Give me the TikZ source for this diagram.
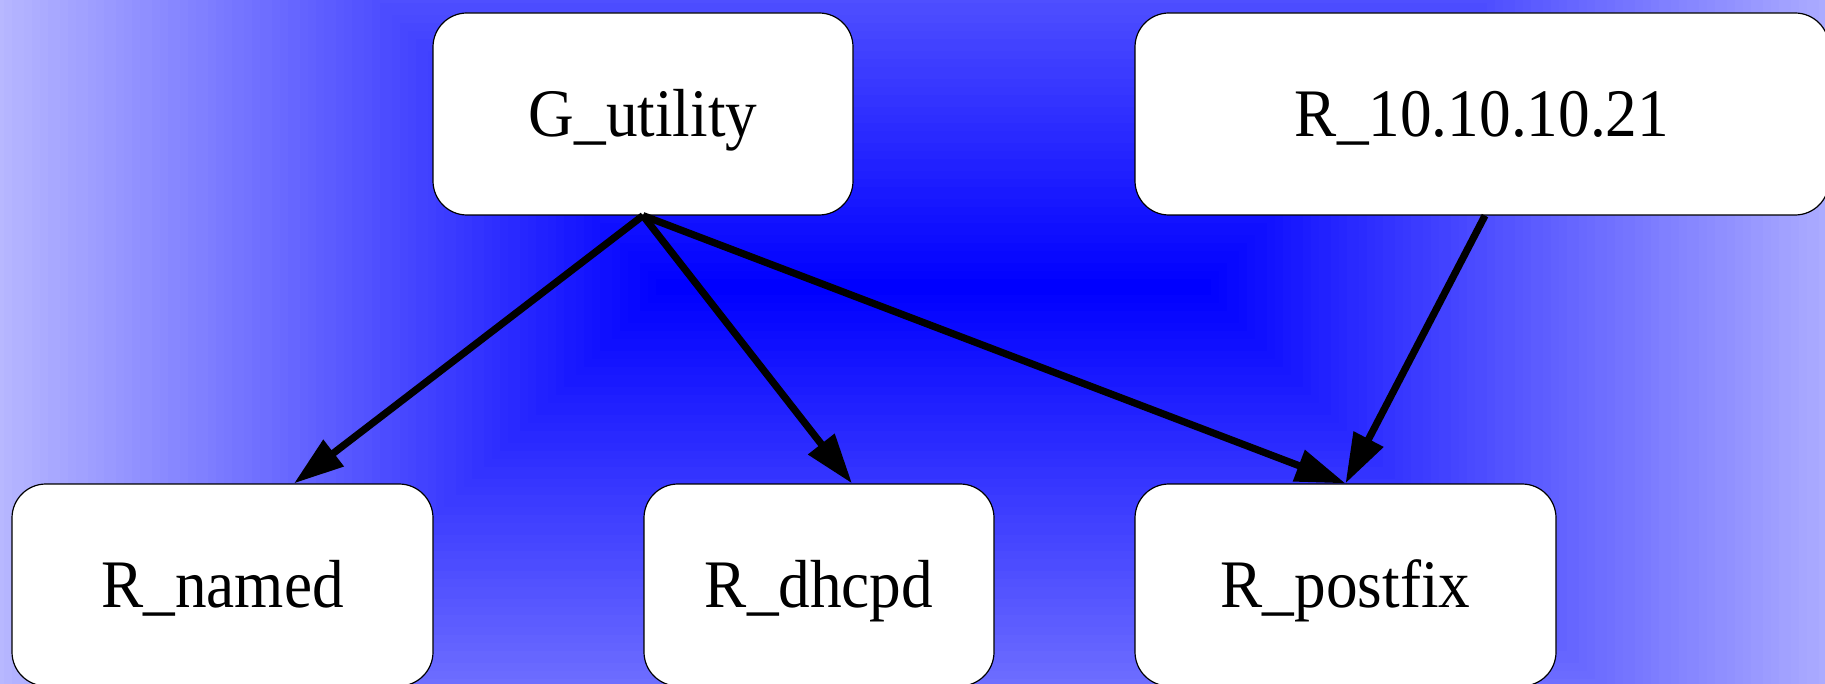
\documentclass[tikz,border=0pt]{standalone}
\usepackage{fontspec}
\setmainfont{Liberation Serif}[FakeStretch=0.93]
\usetikzlibrary{arrows.meta}
\begin{document}
\begin{tikzpicture}[x=0.5pt,y=-0.5pt,
  box/.style={draw=black, line width=0.6pt, fill=white, rounded corners=17pt,
    inner sep=0pt, minimum height=101pt, text height=22.5pt, text depth=0pt,
    font=\fontsize{34}{40}\selectfont},
  edge/.style={line width=3.6pt, -{Triangle[length=25pt,width=16pt]}}]
\useasboundingbox (0,0) rectangle (1825,684);
% background: concentric rectangles fading from blue to pale blue
\begin{scope}
  \clip (0,0) rectangle (1825,684);
  \foreach \d in {672,668,...,0} {
    \pgfmathtruncatemacro\w{min(100,\d/9.2)}
    \fill[white!\w!blue] (664-\d,287-\d) rectangle (1203+\d,287+\d);
  }
\end{scope}
% nodes
\node[box, minimum width=210pt]   (G)       at (643,114)    {G\_utility};
\node[box, minimum width=347pt]   (R10)     at (1482,114)   {R\_10.10.10.21};
\node[box, minimum width=210.5pt] (named)   at (222.5,585)  {R\_named};
\node[box, minimum width=175pt]   (dhcpd)   at (819,585)    {R\_dhcpd};
\node[box, minimum width=210.5pt] (postfix) at (1345.5,585) {R\_postfix};
% edges
\draw[edge] (G.south) -- ([xshift=35.75pt]named.north);
\draw[edge] (G.south) -- ([xshift=16.5pt]dhcpd.north);
\draw[edge] (G.south) -- (postfix.north);
\draw[edge] ([xshift=1.5pt]R10.south) -- (postfix.north);
\end{tikzpicture}
\end{document}
